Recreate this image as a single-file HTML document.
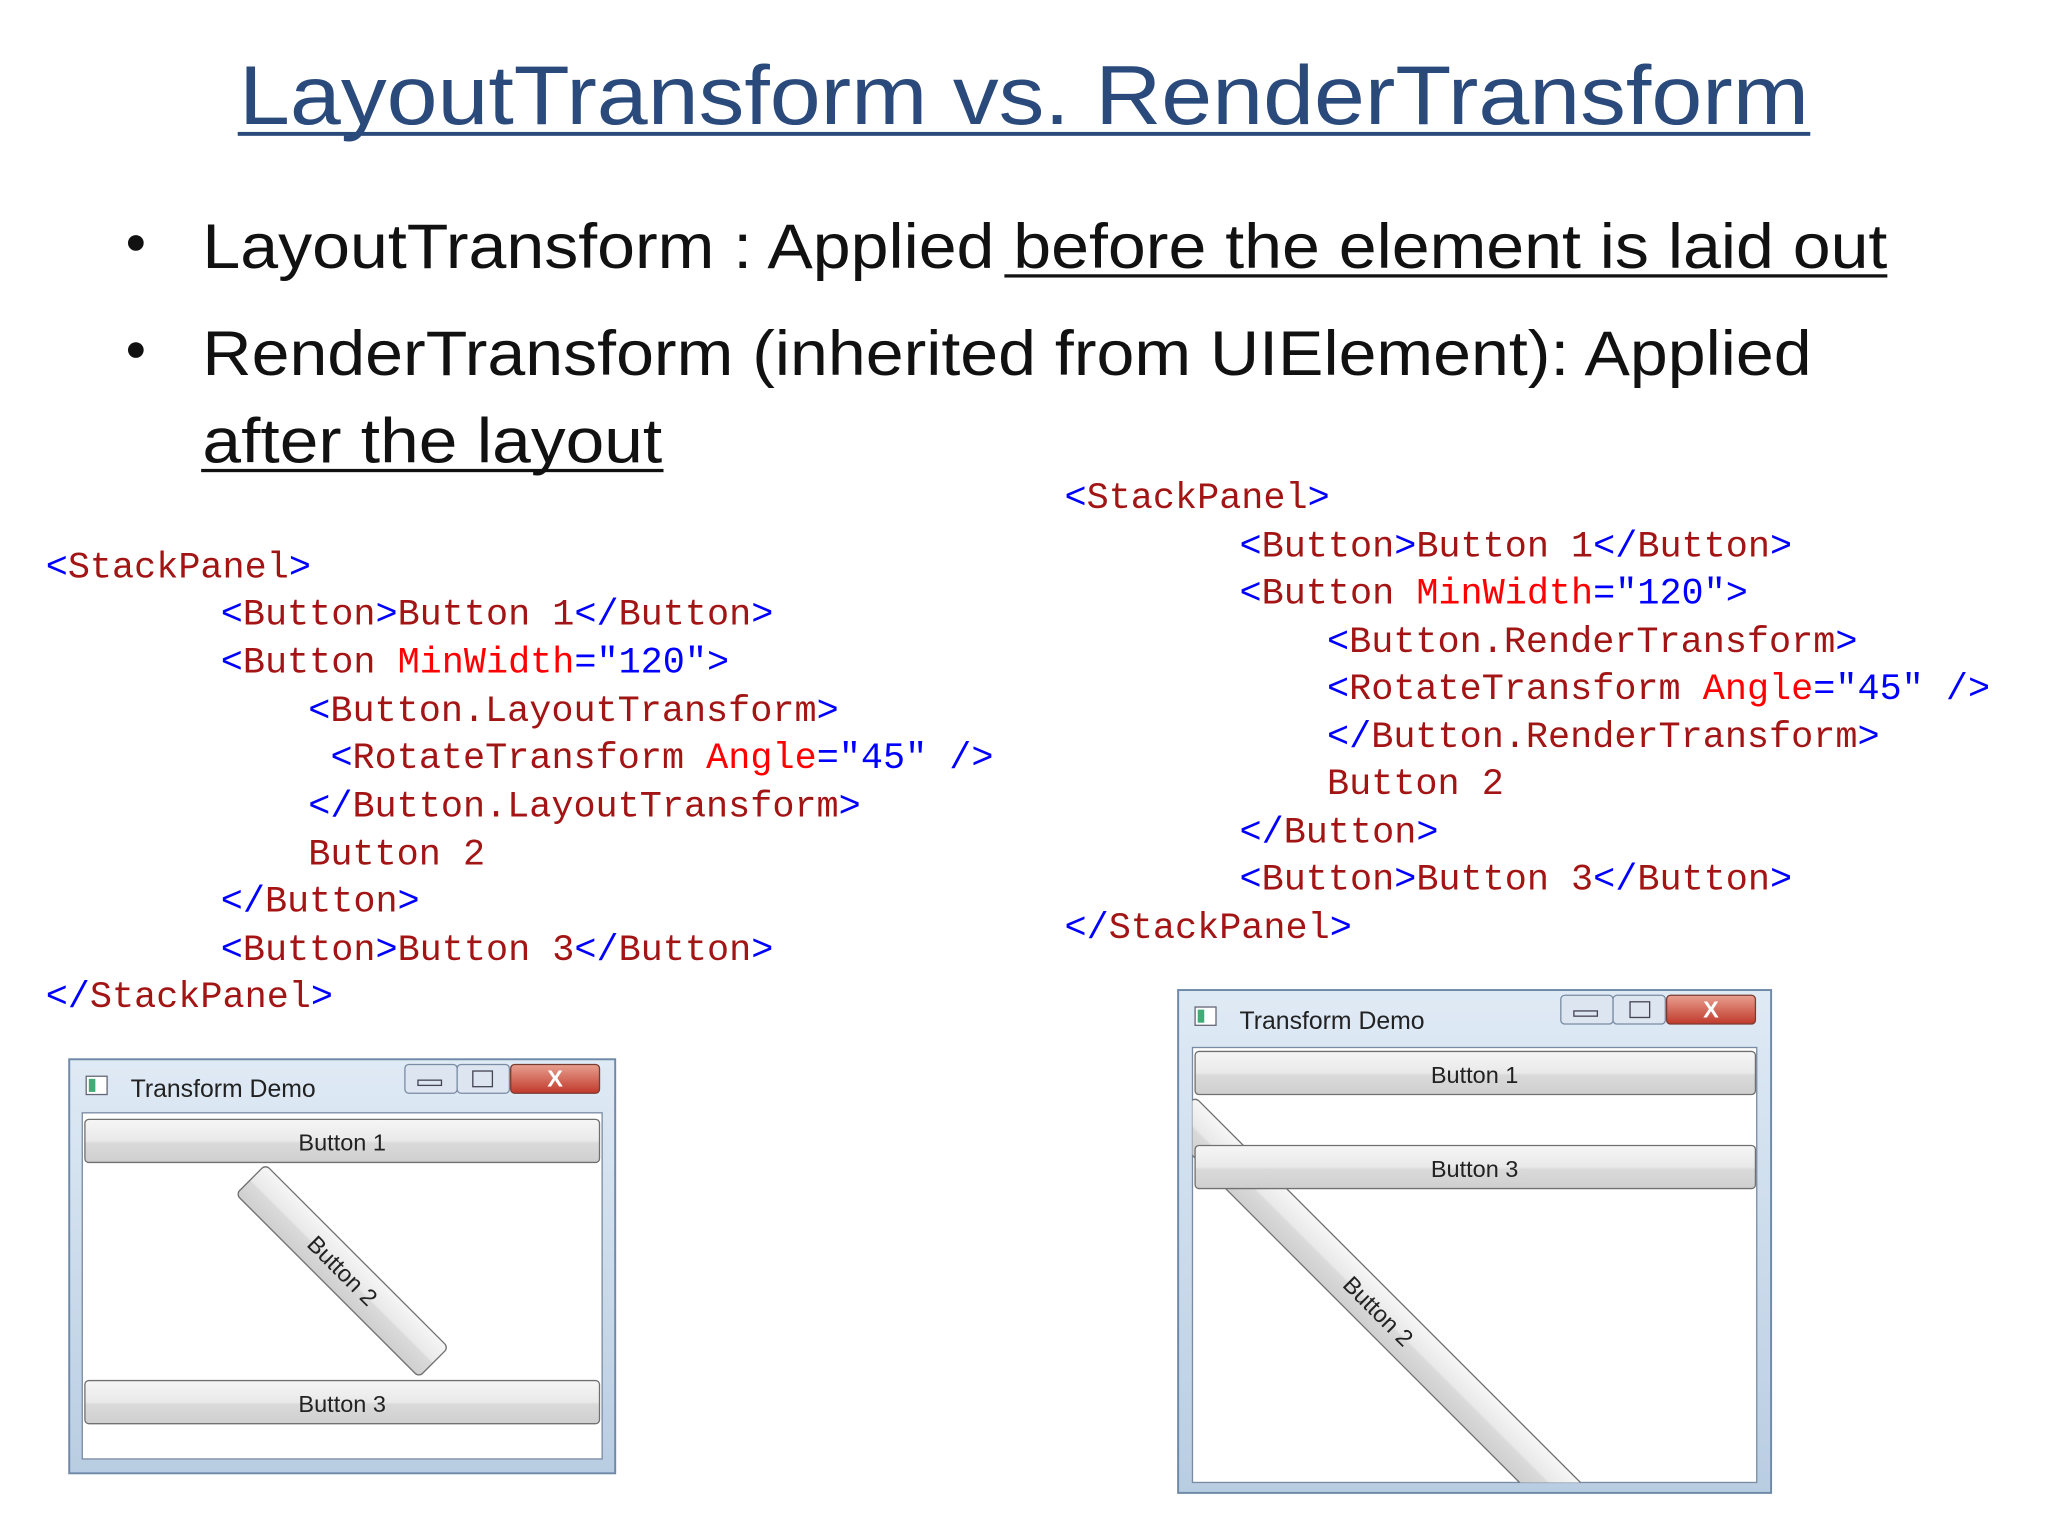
<!DOCTYPE html>
<html><head><meta charset="utf-8"><style>html,body{margin:0;padding:0;background:#fff}svg{display:block}</style></head><body>
<svg xmlns="http://www.w3.org/2000/svg" width="2048" height="1536" viewBox="0 0 1568 1176">
<defs>
<linearGradient id="tb" x1="0" y1="0" x2="0" y2="1"><stop offset="0" stop-color="#dfeaf5"/><stop offset="1" stop-color="#b9cde2"/></linearGradient>
<linearGradient id="btn" x1="0" y1="0" x2="0" y2="1"><stop offset="0" stop-color="#f6f6f6"/><stop offset="0.5" stop-color="#e9e9e9"/><stop offset="0.55" stop-color="#dadada"/><stop offset="1" stop-color="#cfcfcf"/></linearGradient>
<linearGradient id="cls" x1="0" y1="0" x2="0" y2="1"><stop offset="0" stop-color="#e8a090"/><stop offset="1" stop-color="#c0392b"/></linearGradient>
<clipPath id="rc"><rect x="913" y="802" width="432" height="333"/></clipPath>
</defs>
<rect width="1568" height="1176" fill="#fff"/>
<text x="784" y="95" text-anchor="middle" font-family="Liberation Sans, sans-serif" font-size="64" fill="#2a4a7c" textLength="1202" lengthAdjust="spacingAndGlyphs">LayoutTransform vs. RenderTransform</text>
<rect x="182" y="101" width="1204" height="3" fill="#2a4a7c"/>
<g font-family="Liberation Sans, sans-serif" font-size="48" fill="#111">
<circle cx="104" cy="186" r="6" fill="#111"/>
<text x="155" y="205" textLength="1290" lengthAdjust="spacingAndGlyphs">LayoutTransform : Applied before the element is laid out</text>
<rect x="769" y="210" width="676" height="2.5" fill="#111"/>
<circle cx="104" cy="268" r="6" fill="#111"/>
<text x="155" y="287" textLength="1232" lengthAdjust="spacingAndGlyphs">RenderTransform (inherited from UIElement): Applied</text>
<text x="155" y="354" textLength="352" lengthAdjust="spacingAndGlyphs">after the layout</text>
<rect x="154" y="359" width="354" height="2.5" fill="#111"/>
</g>
<g font-family="Liberation Mono, monospace" font-size="28.2" xml:space="preserve">
<text x="35" y="442"><tspan fill="#0000ff">&lt;</tspan><tspan fill="#a31515">StackPanel</tspan><tspan fill="#0000ff">&gt;</tspan></text>
<text x="169" y="478"><tspan fill="#0000ff">&lt;</tspan><tspan fill="#a31515">Button</tspan><tspan fill="#0000ff">&gt;</tspan><tspan fill="#a31515">Button 1</tspan><tspan fill="#0000ff">&lt;/</tspan><tspan fill="#a31515">Button</tspan><tspan fill="#0000ff">&gt;</tspan></text>
<text x="169" y="515"><tspan fill="#0000ff">&lt;</tspan><tspan fill="#a31515">Button</tspan> <tspan fill="#ff0000">MinWidth</tspan><tspan fill="#0000ff">="120"&gt;</tspan></text>
<text x="236" y="552"><tspan fill="#0000ff">&lt;</tspan><tspan fill="#a31515">Button.LayoutTransform</tspan><tspan fill="#0000ff">&gt;</tspan></text>
<text x="253" y="588"><tspan fill="#0000ff">&lt;</tspan><tspan fill="#a31515">RotateTransform</tspan> <tspan fill="#ff0000">Angle</tspan><tspan fill="#0000ff">="45" /&gt;</tspan></text>
<text x="236" y="625"><tspan fill="#0000ff">&lt;/</tspan><tspan fill="#a31515">Button.LayoutTransform</tspan><tspan fill="#0000ff">&gt;</tspan></text>
<text x="236" y="662" fill="#a31515">Button 2</text>
<text x="169" y="698"><tspan fill="#0000ff">&lt;/</tspan><tspan fill="#a31515">Button</tspan><tspan fill="#0000ff">&gt;</tspan></text>
<text x="169" y="735"><tspan fill="#0000ff">&lt;</tspan><tspan fill="#a31515">Button</tspan><tspan fill="#0000ff">&gt;</tspan><tspan fill="#a31515">Button 3</tspan><tspan fill="#0000ff">&lt;/</tspan><tspan fill="#a31515">Button</tspan><tspan fill="#0000ff">&gt;</tspan></text>
<text x="35" y="771"><tspan fill="#0000ff">&lt;/</tspan><tspan fill="#a31515">StackPanel</tspan><tspan fill="#0000ff">&gt;</tspan></text>

<text x="815" y="389"><tspan fill="#0000ff">&lt;</tspan><tspan fill="#a31515">StackPanel</tspan><tspan fill="#0000ff">&gt;</tspan></text>
<text x="949" y="426"><tspan fill="#0000ff">&lt;</tspan><tspan fill="#a31515">Button</tspan><tspan fill="#0000ff">&gt;</tspan><tspan fill="#a31515">Button 1</tspan><tspan fill="#0000ff">&lt;/</tspan><tspan fill="#a31515">Button</tspan><tspan fill="#0000ff">&gt;</tspan></text>
<text x="949" y="462"><tspan fill="#0000ff">&lt;</tspan><tspan fill="#a31515">Button</tspan> <tspan fill="#ff0000">MinWidth</tspan><tspan fill="#0000ff">="120"&gt;</tspan></text>
<text x="1016" y="499"><tspan fill="#0000ff">&lt;</tspan><tspan fill="#a31515">Button.RenderTransform</tspan><tspan fill="#0000ff">&gt;</tspan></text>
<text x="1016" y="535"><tspan fill="#0000ff">&lt;</tspan><tspan fill="#a31515">RotateTransform</tspan> <tspan fill="#ff0000">Angle</tspan><tspan fill="#0000ff">="45" /&gt;</tspan></text>
<text x="1016" y="572"><tspan fill="#0000ff">&lt;/</tspan><tspan fill="#a31515">Button.RenderTransform</tspan><tspan fill="#0000ff">&gt;</tspan></text>
<text x="1016" y="608" fill="#a31515">Button 2</text>
<text x="949" y="645"><tspan fill="#0000ff">&lt;/</tspan><tspan fill="#a31515">Button</tspan><tspan fill="#0000ff">&gt;</tspan></text>
<text x="949" y="681"><tspan fill="#0000ff">&lt;</tspan><tspan fill="#a31515">Button</tspan><tspan fill="#0000ff">&gt;</tspan><tspan fill="#a31515">Button 3</tspan><tspan fill="#0000ff">&lt;/</tspan><tspan fill="#a31515">Button</tspan><tspan fill="#0000ff">&gt;</tspan></text>
<text x="815" y="718"><tspan fill="#0000ff">&lt;/</tspan><tspan fill="#a31515">StackPanel</tspan><tspan fill="#0000ff">&gt;</tspan></text>
</g>

<!-- Left window -->
<g font-family="Liberation Sans, sans-serif">
<rect x="53" y="811" width="418" height="317" fill="url(#tb)" stroke="#6f8aa8" stroke-width="1.5"/>
<rect x="66" y="824" width="16" height="14" fill="#fff" stroke="#667"/><rect x="68" y="826" width="5" height="10" fill="#4a7"/>
<text x="100" y="840" font-size="19" fill="#222">Transform Demo</text>
<rect x="310" y="815" width="40" height="22" rx="3" fill="#dde6f0" stroke="#7a8ca3"/><rect x="350" y="815" width="40" height="22" rx="3" fill="#dde6f0" stroke="#7a8ca3"/>
<rect x="391" y="815" width="68" height="22" rx="3" fill="url(#cls)" stroke="#7a3b30"/>
<rect x="320" y="827" width="18" height="4" fill="none" stroke="#445"/><rect x="362" y="820" width="15" height="12" fill="none" stroke="#445"/>
<text x="425" y="832" font-size="18" fill="#fff" text-anchor="middle" font-weight="bold">X</text>
<rect x="63" y="852" width="398" height="265" fill="#fff" stroke="#7a8ca3"/>
<rect x="65" y="857" width="394" height="33" rx="3" fill="url(#btn)" stroke="#707070"/>
<text x="262" y="881" font-size="18" text-anchor="middle" fill="#222">Button 1</text>
<rect x="65" y="1057" width="394" height="33" rx="3" fill="url(#btn)" stroke="#707070"/>
<text x="262" y="1081" font-size="18" text-anchor="middle" fill="#222">Button 3</text>
<g transform="translate(262,973) rotate(45)">
<rect x="-99" y="-16" width="198" height="32" rx="4" fill="url(#btn)" stroke="#707070"/>
<text x="0" y="6" font-size="18" text-anchor="middle" fill="#222">Button 2</text>
</g>
</g>

<!-- Right window -->
<g font-family="Liberation Sans, sans-serif">
<rect x="902" y="758" width="454" height="385" fill="url(#tb)" stroke="#6f8aa8" stroke-width="1.5"/>
<rect x="915" y="771" width="16" height="14" fill="#fff" stroke="#667"/><rect x="917" y="773" width="5" height="10" fill="#4a7"/>
<text x="949" y="788" font-size="19" fill="#222">Transform Demo</text>
<rect x="1195" y="762" width="40" height="22" rx="3" fill="#dde6f0" stroke="#7a8ca3"/><rect x="1235" y="762" width="40" height="22" rx="3" fill="#dde6f0" stroke="#7a8ca3"/>
<rect x="1276" y="762" width="68" height="22" rx="3" fill="url(#cls)" stroke="#7a3b30"/>
<rect x="1205" y="774" width="18" height="4" fill="none" stroke="#445"/><rect x="1248" y="767" width="15" height="12" fill="none" stroke="#445"/>
<text x="1310" y="779" font-size="18" fill="#fff" text-anchor="middle" font-weight="bold">X</text>
<rect x="913" y="802" width="432" height="333" fill="#fff" stroke="#7a8ca3"/>
<g clip-path="url(#rc)">
<g transform="translate(915,840) rotate(45)">
<rect x="0" y="0" width="430" height="33" rx="4" fill="url(#btn)" stroke="#707070"/>
<text x="215" y="23" font-size="18" text-anchor="middle" fill="#222">Button 2</text>
</g>
</g>
<rect x="915" y="805" width="429" height="33" rx="3" fill="url(#btn)" stroke="#707070"/>
<text x="1129" y="829" font-size="18" text-anchor="middle" fill="#222">Button 1</text>
<rect x="915" y="877" width="429" height="33" rx="3" fill="url(#btn)" stroke="#707070"/>
<text x="1129" y="901" font-size="18" text-anchor="middle" fill="#222">Button 3</text>
</g>
</svg>
</body></html>
